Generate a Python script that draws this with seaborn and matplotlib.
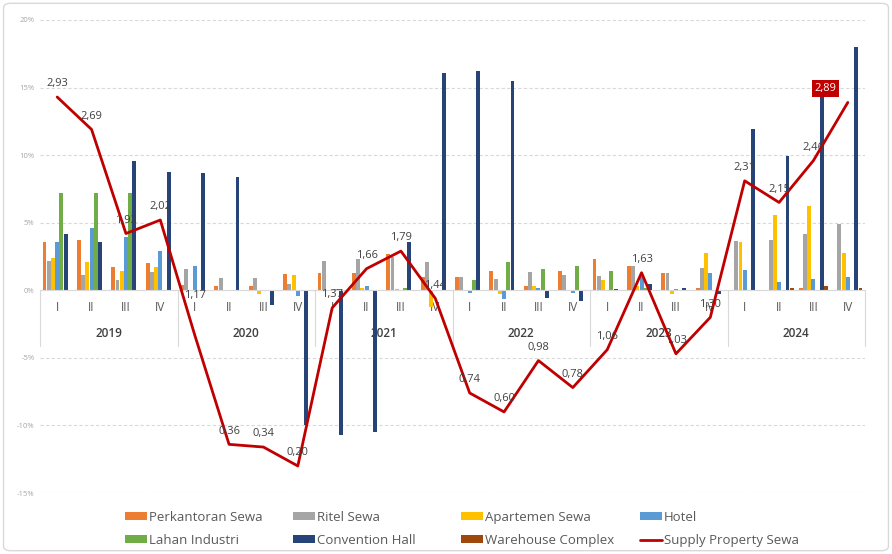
import numpy as np
import pandas as pd
import matplotlib
matplotlib.use("Agg")
import matplotlib.pyplot as plt
import seaborn as sns
from matplotlib.patches import Patch, FancyBboxPatch
from matplotlib.lines import Line2D

# ---- data -------------------------------------------------------------
years = ["2019", "2020", "2021", "2022", "2023", "2024"]
quarters = ["I", "II", "III", "IV"] * 6

perkantoran = [3.6, 3.75, 1.7, 2.0, 0.4, 0.35, 0.3, 1.2, 1.25, 1.25, 2.7, 1.0,
               1.0, 1.4, 0.35, 1.4, 2.3, 1.8, 1.3, 0.2, 0.0, 0.0, 0.2, 0.0]
ritel = [2.2, 1.1, 0.75, 1.35, 1.6, 0.9, 0.9, 0.5, 2.2, 2.3, 2.5, 2.1,
         0.95, 0.85, 1.35, 1.1, 1.05, 1.8, 1.3, 1.65, 3.65, 3.75, 4.2, 4.9]
apartemen = [2.4, 2.1, 1.4, 1.7, 0.0, 0.0, -0.25, 1.15, 0.0, 0.2, 0.1, -1.2,
             0.0, -0.3, 0.3, 0.0, 0.75, 0.3, -0.25, 2.75, 3.6, 5.55, 6.2, 2.75]
hotel = [3.6, 4.6, 3.95, 2.9, 1.8, 0.0, 0.0, -0.4, 0.0, 0.3, 0.0, 0.0,
         -0.2, -0.65, 0.2, -0.2, 0.0, 1.0, 0.1, 1.25, 1.5, 0.6, 0.85, 1.0]
lahan_industri = [7.2, 7.2, 7.2, 0.0, 0.0, 0.0, 0.0, 0.0, 0.1, 0.0, 0.2, 0.0,
                  0.75, 2.1, 1.55, 1.8, 1.45, 0.2, 0.0, 0.0, 0.0, 0.0, 0.0, 0.0]
convention_hall = [4.2, 3.6, 9.6, 8.75, 8.65, 8.4, -1.1, -10.0, -10.7, -10.5, 3.6, 16.1,
                   16.2, 15.5, -0.6, -0.8, 0.1, 0.5, 0.15, -0.3, 11.9, 9.9, 15.5, 18.0]
warehouse = [0.0, 0.0, 0.0, 0.0, 0.0, 0.0, 0.0, 0.0, 0.0, 0.0, 0.0, 0.0,
             0.0, 0.0, 0.0, 0.0, 0.0, 0.0, 0.0, 0.0, 0.05, 0.15, 0.3, 0.2]
supply = [2.93, 2.69, 1.92, 2.02, 1.17, 0.36, 0.34, 0.20, 1.37, 1.66, 1.79, 1.44,
          0.74, 0.60, 0.98, 0.78, 1.06, 1.63, 1.03, 1.30, 2.31, 2.15, 2.46, 2.89]

series_names = ["Perkantoran Sewa", "Ritel Sewa", "Apartemen Sewa", "Hotel",
                "Lahan Industri", "Convention Hall", "Warehouse Complex"]
series_values = [perkantoran, ritel, apartemen, hotel,
                 lahan_industri, convention_hall, warehouse]
line_name = "Supply Property Sewa"

colors = ["#ED7D31", "#A5A5A5", "#FFC000", "#5B9BD5",
          "#70AD47", "#264478", "#9E480E"]
line_color = "#C00000"

rows = []
for name, vals in zip(series_names, series_values):
    for i, v in enumerate(vals):
        rows.append((i, name, v))
df = pd.DataFrame(rows, columns=["idx", "series", "value"])

# ---- figure -----------------------------------------------------------
sns.set_theme(style="white")
plt.rcParams["font.family"] = ["Open Sans", "DejaVu Sans"]

W, H = 892, 554
fig = plt.figure(figsize=(W / 100, H / 100), dpi=100)
ax = fig.add_axes([40 / W, 61 / H, 825 / W, 473 / H])

sns.barplot(data=df, x="idx", y="value", hue="series", hue_order=series_names,
            palette=colors, width=0.86, gap=0.08, saturation=1,
            errorbar=None, legend=False, ax=ax, linewidth=0)

ax.set_xlim(-0.5, 23.5)
ax.set_ylim(-15, 20)
yt = list(range(-15, 21, 5))
ax.set_yticks(yt)
ax.set_yticklabels([f"{t}%" for t in yt])
ax.tick_params(axis="y", length=0, labelsize=5.5, labelcolor="#A6A6A6", pad=4)
ax.set_xticks([])
ax.set_xlabel("")
ax.set_ylabel("")
ax.yaxis.grid(True, linestyle=(0, (3, 2)), color="#D9D9D9", linewidth=0.8)
ax.set_axisbelow(True)
for s in ax.spines.values():
    s.set_visible(False)
ax.axhline(0, color="#D9D9D9", linewidth=0.8, zorder=1)

# two-level category axis: quarters and years with separators
for i, q in enumerate(quarters):
    ax.text(i, -1.27, q, ha="center", va="center", fontsize=8.5,
            color="#595959", zorder=0)
for k, yr in enumerate(years):
    ax.text(4 * k + 1.5, -3.2, yr, ha="center", va="center", fontsize=8.5,
            color="#404040", fontweight="semibold", zorder=0)
for k in range(7):
    ax.plot([4 * k - 0.5] * 2, [0, -4.1], color="#D9D9D9", linewidth=0.8,
            clip_on=False, zorder=0)

# supply line on a secondary scale
ax2 = ax.twinx()
sns.lineplot(x=np.arange(len(supply)), y=supply, ax=ax2, color=line_color,
             linewidth=2)
ax2.set_ylim(0, 3.5)
ax2.set_yticks([])
ax2.set_ylabel("")
for s in ax2.spines.values():
    s.set_visible(False)


def fmt(v):
    return f"{v:.2f}".replace(".", ",")


last = len(supply) - 1
for i, v in enumerate(supply):
    if i == last:
        ax2.annotate(fmt(v), (i, v), xytext=(-16, 10), textcoords="offset points",
                     ha="center", va="center", fontsize=8, color="white",
                     bbox=dict(boxstyle="square,pad=0.25", fc=line_color, ec="none"))
    else:
        dy = 28 if i == 4 else 9.5
        ax2.annotate(fmt(v), (i, v), xytext=(0, dy), textcoords="offset points",
                     ha="center", va="center", fontsize=8, color="#404040")

# legend laid out in four fixed columns
handles = [Patch(facecolor=c, edgecolor="none") for c in colors]
handles.append(Line2D([], [], color=line_color, linewidth=2))
labels = series_names + [line_name]
col_x = [125, 293, 461, 640]
for c in range(4):
    fig.legend([handles[c], handles[c + 4]], [labels[c], labels[c + 4]],
               loc="upper left", bbox_to_anchor=(col_x[c] / W, 1 - 511 / H),
               frameon=False, fontsize=9.5, labelcolor="#595959",
               handlelength=1.7, handleheight=0.55, handletextpad=0.12,
               labelspacing=0.75, borderpad=0, borderaxespad=0)

# outer frame
fig.add_artist(FancyBboxPatch((0.004, 0.006), 0.992, 0.988,
                              boxstyle="round,pad=0,rounding_size=0.008",
                              transform=fig.transFigure, fill=False,
                              ec="#D9D9D9", lw=1))

fig.savefig("out.png", dpi=100)
